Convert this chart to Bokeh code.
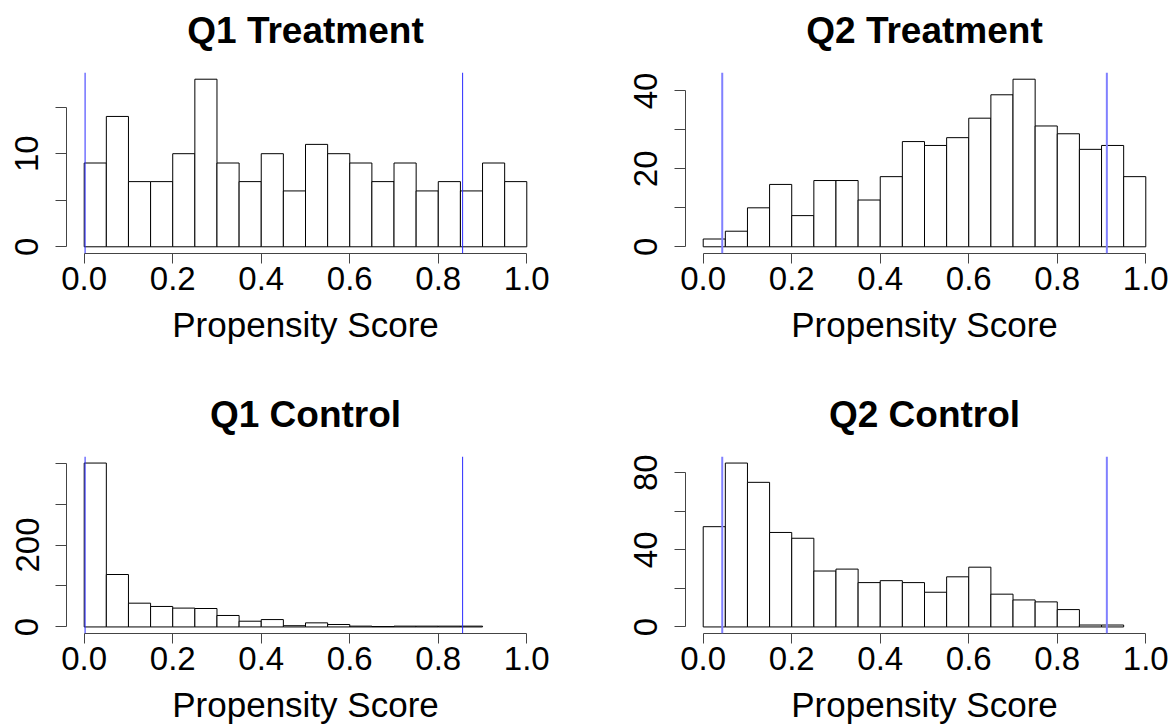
import numpy as np
from bokeh.plotting import figure
from bokeh.models import Range1d, FixedTicker, Span, Title
from bokeh.layouts import gridplot
from bokeh.embed import file_html
from bokeh.resources import INLINE

# ---- data ----
bin_width = 0.05
q1_treatment = [9, 14, 7, 7, 10, 18, 9, 7, 10, 6, 11, 10, 9, 7, 9, 6, 7, 6, 9, 7]
q2_treatment = [2, 4, 10, 16, 8, 17, 17, 12, 18, 27, 26, 28, 33, 39, 43, 31, 29, 25, 26, 18]
q1_control = [400, 128, 58, 50, 46, 45, 28, 14, 18, 3, 10, 6, 2, 1, 2, 2, 2, 2]
q2_control = [52, 85, 75, 49, 46, 29, 30, 23, 24, 23, 18, 26, 31, 17, 14, 13, 9, 1, 1]
q1_cutoffs = [0.002, 0.855]
q2_cutoffs = [0.043, 0.912]
x_ticks = [0.0, 0.2, 0.4, 0.6, 0.8, 1.0]
x_tick_labels = ["0.0", "0.2", "0.4", "0.6", "0.8", "1.0"]
q1t_yticks = [0, 5, 10, 15]
q1t_ylabels = ["0", "", "10", ""]
q2t_yticks = [0, 10, 20, 30, 40]
q2t_ylabels = ["0", "", "20", "", "40"]
q1c_yticks = [0, 100, 200, 300, 400]
q1c_ylabels = ["0", "", "200", "", ""]
q2c_yticks = [0, 20, 40, 60, 80]
q2c_ylabels = ["0", "", "40", "", "80"]

FONT = "Liberation Sans"
AXIS_COLOR = "#444444"


def panel(title, counts, cutoffs, yticks, ylabels, line_color, line_width,
          width, height, b_left, b_right, b_top, b_bottom):
    ymax = max(counts)
    p = figure(width=width, height=height,
               x_range=Range1d(-0.04, 1.04),
               y_range=Range1d(-0.04 * ymax, 1.04 * ymax),
               output_backend="svg", toolbar_location=None, title=title,
               min_border_left=b_left, min_border_right=b_right,
               min_border_top=b_top, min_border_bottom=b_bottom)
    left = [i * bin_width for i in range(len(counts))]
    right = [(i + 1) * bin_width for i in range(len(counts))]
    p.quad(left=left, right=right, top=counts, bottom=0,
           fill_color="white", line_color="black", line_width=1)
    for c in cutoffs:
        p.add_layout(Span(location=c, dimension="height",
                          line_color=line_color, line_width=line_width))
    p.grid.visible = False
    p.outline_line_color = None
    p.background_fill_color = "white"
    p.border_fill_color = "white"

    p.title.text_font = FONT
    p.title.text_font_style = "bold"
    p.title.text_font_size = "37px"
    p.title.text_color = "black"
    p.title.align = "center"
    p.title.standoff = 0
    # thin blank spacer between the title and the plot region
    p.add_layout(Title(text=" ", text_font_size="1px", standoff=19), "above")

    xa = p.xaxis[0]
    xa.ticker = FixedTicker(ticks=x_ticks)
    xa.major_label_overrides = {t: l for t, l in zip(x_ticks, x_tick_labels)}
    xa.bounds = (x_ticks[0], x_ticks[-1])
    xa.axis_label = "Propensity Score"
    xa.axis_label_text_font = FONT
    xa.axis_label_text_font_style = "normal"
    xa.axis_label_text_font_size = "35px"
    xa.axis_label_text_color = "black"
    xa.axis_label_standoff = 12
    xa.major_label_text_font = FONT
    xa.major_label_text_font_size = "33px"
    xa.major_label_standoff = 3
    xa.major_tick_out = 10
    xa.major_tick_in = 0
    xa.minor_tick_out = 0
    xa.minor_tick_in = 0
    xa.axis_line_color = AXIS_COLOR
    xa.major_tick_line_color = AXIS_COLOR
    xa.major_label_text_color = "black"

    ya = p.yaxis[0]
    ya.ticker = FixedTicker(ticks=yticks)
    ya.major_label_overrides = {t: l for t, l in zip(yticks, ylabels)}
    ya.bounds = (yticks[0], yticks[-1])
    ya.major_label_orientation = "vertical"
    ya.major_label_text_font = FONT
    ya.major_label_text_font_size = "33px"
    ya.major_label_standoff = 17
    ya.major_tick_out = 11
    ya.major_tick_in = 0
    ya.minor_tick_out = 0
    ya.minor_tick_in = 0
    ya.axis_line_color = AXIS_COLOR
    ya.major_tick_line_color = AXIS_COLOR
    ya.major_label_text_color = "black"
    return p


p1 = panel("Q1 Treatment", q1_treatment, q1_cutoffs, q1t_yticks, q1t_ylabels,
           "#2b2bff", 1, 618, 390, 66, 74, 72, 137)
p2 = panel("Q2 Treatment", q2_treatment, q2_cutoffs, q2t_yticks, q2t_ylabels,
           "#8080ff", 2, 555, 390, 67, 10, 72, 137)
p3 = panel("Q1 Control", q1_control, q1_cutoffs, q1c_yticks, q1c_ylabels,
           "#2b2bff", 1, 618, 336, 66, 74, 66, 90)
p4 = panel("Q2 Control", q2_control, q2_cutoffs, q2c_yticks, q2c_ylabels,
           "#8080ff", 2, 555, 336, 67, 10, 66, 90)

grid = gridplot([[p1, p2], [p3, p4]], toolbar_location=None)

open("out.html", "w").write(file_html(grid, INLINE))
